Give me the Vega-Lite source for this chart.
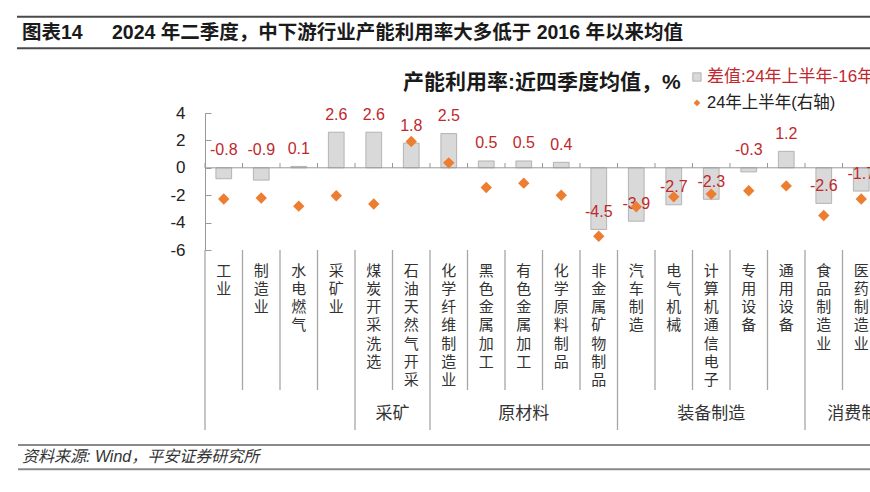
{
  "$schema": "https://vega.github.io/schema/vega-lite/v6.json",
  "width": 665,
  "height": 137,
  "autosize": {"type": "none"},
  "padding": {"left": 205, "top": 113, "right": 0, "bottom": 242},
  "background": "#ffffff",
  "config": {
    "view": {"stroke": null},
    "font": "Liberation Sans, Noto Sans CJK SC",
    "axisY": {"labelOverlap": false, "labelFlush": false, "labelBound": false},
    "axisQuantitative": {"labelOverlap": false}
  },
  "datasets": {
    "rows": [
      {"category": "工业", "group": "", "diff": -0.8, "h1": 74.3},
      {"category": "制造业", "group": "", "diff": -0.9, "h1": 74.5},
      {"category": "水电燃气", "group": "", "diff": 0.1, "h1": 73.0},
      {"category": "采矿业", "group": "", "diff": 2.6, "h1": 74.9},
      {"category": "煤炭开采洗选", "group": "采矿", "diff": 2.6, "h1": 73.4},
      {"category": "石油天然气开采", "group": "采矿", "diff": 1.8, "h1": 84.8},
      {"category": "化学纤维制造业", "group": "原材料", "diff": 2.5, "h1": 80.9},
      {"category": "黑色金属加工", "group": "原材料", "diff": 0.5, "h1": 76.4},
      {"category": "有色金属加工", "group": "原材料", "diff": 0.5, "h1": 77.2},
      {"category": "化学原料制品", "group": "原材料", "diff": 0.4, "h1": 75.0},
      {"category": "非金属矿物制品", "group": "原材料", "diff": -4.5, "h1": 67.5},
      {"category": "汽车制造", "group": "装备制造", "diff": -3.9, "h1": 72.9},
      {"category": "电气机械", "group": "装备制造", "diff": -2.7, "h1": 74.7},
      {"category": "计算机通信电子", "group": "装备制造", "diff": -2.3, "h1": 75.2},
      {"category": "专用设备", "group": "装备制造", "diff": -0.3, "h1": 75.8},
      {"category": "通用设备", "group": "装备制造", "diff": 1.2, "h1": 76.7},
      {"category": "食品制造业", "group": "消费制造", "diff": -2.6, "h1": 71.3},
      {"category": "医药制造业", "group": "消费制造", "diff": -1.7, "h1": 74.3}
    ]
  },
  "layer": [
    {
      "data": {"name": "rows"},
      "mark": {"type": "bar", "width": {"band": 0.42}, "fill": "#d9d9d9", "stroke": "#a6a6a6", "strokeWidth": 0.8},
      "encoding": {
        "x": {
          "field": "category", "type": "nominal", "sort": null,
          "scale": {"domain": ["工业", "制造业", "水电燃气", "采矿业", "煤炭开采洗选", "石油天然气开采", "化学纤维制造业", "黑色金属加工", "有色金属加工", "化学原料制品", "非金属矿物制品", "汽车制造", "电气机械", "计算机通信电子", "专用设备", "通用设备", "食品制造业", "医药制造业"], "range": [0, 675], "paddingInner": 0, "paddingOuter": 0},
          "axis": {"orient": "bottom", "title": null, "domain": false, "ticks": false, "grid": false, "labelAngle": 0, "labelExpr": "split(datum.label, '')", "labelFontSize": 15, "labelLineHeight": 18.3, "labelBaseline": "top", "labelPadding": 13, "labelColor": "#333333", "labelFont": "Noto Sans CJK SC", "labelOverlap": false, "labelBound": false, "labelFlush": false}
        },
        "y": {
          "field": "diff", "type": "quantitative",
          "scale": {"domain": [-6, 4], "nice": false, "zero": false},
          "axis": {"title": null, "values": [-6, -4, -2, 0, 2, 4], "grid": false, "domainColor": "#999999", "domainWidth": 1, "tickColor": "#999999", "tickSize": -6, "labelPadding": 26, "labelFontSize": 17, "labelColor": "#222222", "labelFont": "Liberation Sans", "labelExpr": "'' + datum.value", "labelOverlap": false, "labelFlush": false, "labelBound": false}
        }
      }
    },
    {
      "data": {"name": "rows"},
      "layer": [
        {
          "data": {"values": [{}]},
          "mark": {"type": "rule", "color": "#999999", "strokeWidth": 1},
          "encoding": {"y": {"datum": 0, "type": "quantitative", "scale": {"domain": [-6, 4], "nice": false, "zero": false}, "axis": null}}
        },
        {
          "mark": {"type": "rule", "color": "#999999", "strokeWidth": 1},
          "encoding": {
            "x": {"field": "category", "type": "nominal", "bandPosition": 0, "sort": null, "axis": null,
                  "scale": {"domain": ["工业", "制造业", "水电燃气", "采矿业", "煤炭开采洗选", "石油天然气开采", "化学纤维制造业", "黑色金属加工", "有色金属加工", "化学原料制品", "非金属矿物制品", "汽车制造", "电气机械", "计算机通信电子", "专用设备", "通用设备", "食品制造业", "医药制造业"], "range": [0, 675], "paddingInner": 0, "paddingOuter": 0}},
            "y": {"datum": 0, "axis": null},
            "y2": {"datum": 0.35}
          }
        },
        {
          "transform": [{"filter": "datum.diff >= 0 || datum.diff <= -1"}],
          "mark": {"type": "text", "dy": -17.5, "fontSize": 16, "color": "#c0282d", "font": "Liberation Sans", "baseline": "middle"},
          "encoding": {
            "x": {"field": "category", "type": "nominal", "axis": null},
            "y": {"field": "diff", "type": "quantitative", "axis": null},
            "text": {"field": "diff", "type": "nominal"}
          }
        },
        {
          "transform": [{"filter": "datum.diff < 0 && datum.diff > -1"}],
          "mark": {"type": "text", "dy": -17.5, "fontSize": 16, "color": "#c0282d", "font": "Liberation Sans", "baseline": "middle"},
          "encoding": {
            "x": {"field": "category", "type": "nominal", "axis": null},
            "y": {"datum": 0, "axis": null},
            "text": {"field": "diff", "type": "nominal"}
          }
        },
        {
          "transform": [{"window": [{"op": "row_number", "as": "idx"}], "groupby": ["group"]}, {"filter": "datum.idx > 1"}],
          "mark": {"type": "rule", "color": "#a6a6a6", "strokeWidth": 1.3},
          "encoding": {
            "x": {"field": "category", "type": "nominal", "bandPosition": 0, "axis": null},
            "y": {"datum": -6, "axis": null},
            "y2": {"datum": -16.22}
          }
        },
        {
          "transform": [{"window": [{"op": "row_number", "as": "idx"}], "groupby": ["group"]}, {"filter": "datum.idx == 1"}],
          "mark": {"type": "rule", "color": "#a6a6a6", "strokeWidth": 1.3},
          "encoding": {
            "x": {"field": "category", "type": "nominal", "bandPosition": 0, "axis": null},
            "y": {"datum": -6, "axis": null},
            "y2": {"datum": -19.14}
          }
        },
        {
          "data": {"values": [{"group": "采矿", "center": "石油天然气开采"}]},
          "mark": {"type": "text", "fontSize": 17, "font": "Noto Sans CJK SC", "color": "#333333", "baseline": "middle"},
          "encoding": {
            "x": {"field": "center", "type": "nominal", "bandPosition": 0, "axis": null},
            "y": {"datum": -17.95, "axis": null},
            "text": {"field": "group"}
          }
        },
        {
          "data": {"values": [{"group": "原材料", "center": "有色金属加工"}, {"group": "装备制造", "center": "计算机通信电子"}, {"group": "消费制造", "center": "医药制造业"}]},
          "mark": {"type": "text", "fontSize": 17, "font": "Noto Sans CJK SC", "color": "#333333", "baseline": "middle"},
          "encoding": {
            "x": {"field": "center", "type": "nominal", "bandPosition": 0.5, "axis": null},
            "y": {"datum": -17.95, "axis": null},
            "text": {"field": "group"}
          }
        }
      ]
    },
    {
      "data": {"name": "rows"},
      "mark": {"type": "point", "shape": "diamond", "filled": true, "size": 130, "color": "#ed7d31", "opacity": 1},
      "encoding": {
        "x": {
          "field": "category", "type": "nominal", "sort": null,
          "scale": {"domain": ["工业", "制造业", "水电燃气", "采矿业", "煤炭开采洗选", "石油天然气开采", "化学纤维制造业", "黑色金属加工", "有色金属加工", "化学原料制品", "非金属矿物制品", "汽车制造", "电气机械", "计算机通信电子", "专用设备", "通用设备", "食品制造业", "医药制造业"], "range": [0, 675], "paddingInner": 0, "paddingOuter": 0},
          "axis": null
        },
        "y": {"field": "h1", "type": "quantitative", "scale": {"domain": [65, 90], "nice": false, "zero": false}, "axis": null}
      }
    },
    {
      "data": {"values": [{}]},
      "layer": [
        {
          "mark": {"type": "rule", "color": "#4a4a4a", "strokeWidth": 2},
          "encoding": {
            "x": {"datum": 0.0195, "type": "quantitative", "scale": {"domain": [0, 1], "range": [-205, 665], "nice": false, "zero": false}, "axis": null},
            "x2": {"datum": 1},
            "y": {"datum": 0.0339, "type": "quantitative", "scale": {"domain": [0, 1], "range": [-113, 379], "nice": false, "zero": false}, "axis": null}
          }
        },
        {
          "mark": {"type": "rule", "color": "#4a4a4a", "strokeWidth": 2},
          "encoding": {
            "x": {"datum": 0.0195, "type": "quantitative", "axis": null},
            "x2": {"datum": 1},
            "y": {"datum": 0.0982, "type": "quantitative", "axis": null}
          }
        },
        {
          "mark": {"type": "rule", "color": "#8a8a8a", "strokeWidth": 2},
          "encoding": {
            "x": {"datum": 0.0207, "type": "quantitative", "axis": null},
            "x2": {"datum": 1},
            "y": {"datum": 0.9045, "type": "quantitative", "axis": null}
          }
        },
        {
          "mark": {"type": "rule", "color": "#8a8a8a", "strokeWidth": 2},
          "encoding": {
            "x": {"datum": 0.0207, "type": "quantitative", "axis": null},
            "x2": {"datum": 1},
            "y": {"datum": 0.9539, "type": "quantitative", "axis": null}
          }
        },
        {
          "mark": {"type": "text", "text": "图表14", "fontSize": 19.5, "fontWeight": "bold", "color": "#1a1a1a", "align": "left", "baseline": "middle"},
          "encoding": {
            "x": {"datum": 0.0253, "type": "quantitative", "axis": null},
            "y": {"datum": 0.0671, "type": "quantitative", "axis": null}
          }
        },
        {
          "mark": {"type": "text", "text": "2024 年二季度，中下游行业产能利用率大多低于 2016 年以来均值", "fontSize": 19.5, "fontWeight": "bold", "color": "#1a1a1a", "align": "left", "baseline": "middle"},
          "encoding": {
            "x": {"datum": 0.1287, "type": "quantitative", "axis": null},
            "y": {"datum": 0.0671, "type": "quantitative", "axis": null}
          }
        },
        {
          "mark": {"type": "text", "text": "产能利用率:近四季度均值，%", "fontSize": 21, "fontWeight": "bold", "color": "#1a1a1a", "align": "left", "baseline": "middle"},
          "encoding": {
            "x": {"datum": 0.4632, "type": "quantitative", "axis": null},
            "y": {"datum": 0.1687, "type": "quantitative", "axis": null}
          }
        },
        {
          "mark": {"type": "point", "shape": "square", "filled": true, "size": 70, "fill": "#d9d9d9", "stroke": "#a6a6a6", "strokeWidth": 0.8, "opacity": 1},
          "encoding": {
            "x": {"datum": 0.8011, "type": "quantitative", "axis": null},
            "y": {"datum": 0.1565, "type": "quantitative", "axis": null}
          }
        },
        {
          "mark": {"type": "text", "text": "差值:24年上半年-16年以来均值", "fontSize": 17, "color": "#c0282d", "align": "left", "baseline": "middle"},
          "encoding": {
            "x": {"datum": 0.8126, "type": "quantitative", "axis": null},
            "y": {"datum": 0.1565, "type": "quantitative", "axis": null}
          }
        },
        {
          "mark": {"type": "point", "shape": "diamond", "filled": true, "size": 45, "color": "#ed7d31", "opacity": 1},
          "encoding": {
            "x": {"datum": 0.8011, "type": "quantitative", "axis": null},
            "y": {"datum": 0.2093, "type": "quantitative", "axis": null}
          }
        },
        {
          "mark": {"type": "text", "text": "24年上半年(右轴)", "fontSize": 16.5, "color": "#222222", "align": "left", "baseline": "middle"},
          "encoding": {
            "x": {"datum": 0.8126, "type": "quantitative", "axis": null},
            "y": {"datum": 0.2093, "type": "quantitative", "axis": null}
          }
        },
        {
          "mark": {"type": "text", "text": "资料来源: Wind，平安证券研究所", "fontSize": 16, "fontStyle": "italic", "color": "#333333", "align": "left", "baseline": "middle"},
          "encoding": {
            "x": {"datum": 0.0253, "type": "quantitative", "axis": null},
            "y": {"datum": 0.9289, "type": "quantitative", "axis": null}
          }
        }
      ]
    }
  ],
  "resolve": {"scale": {"x": "independent", "y": "independent"}}
}
